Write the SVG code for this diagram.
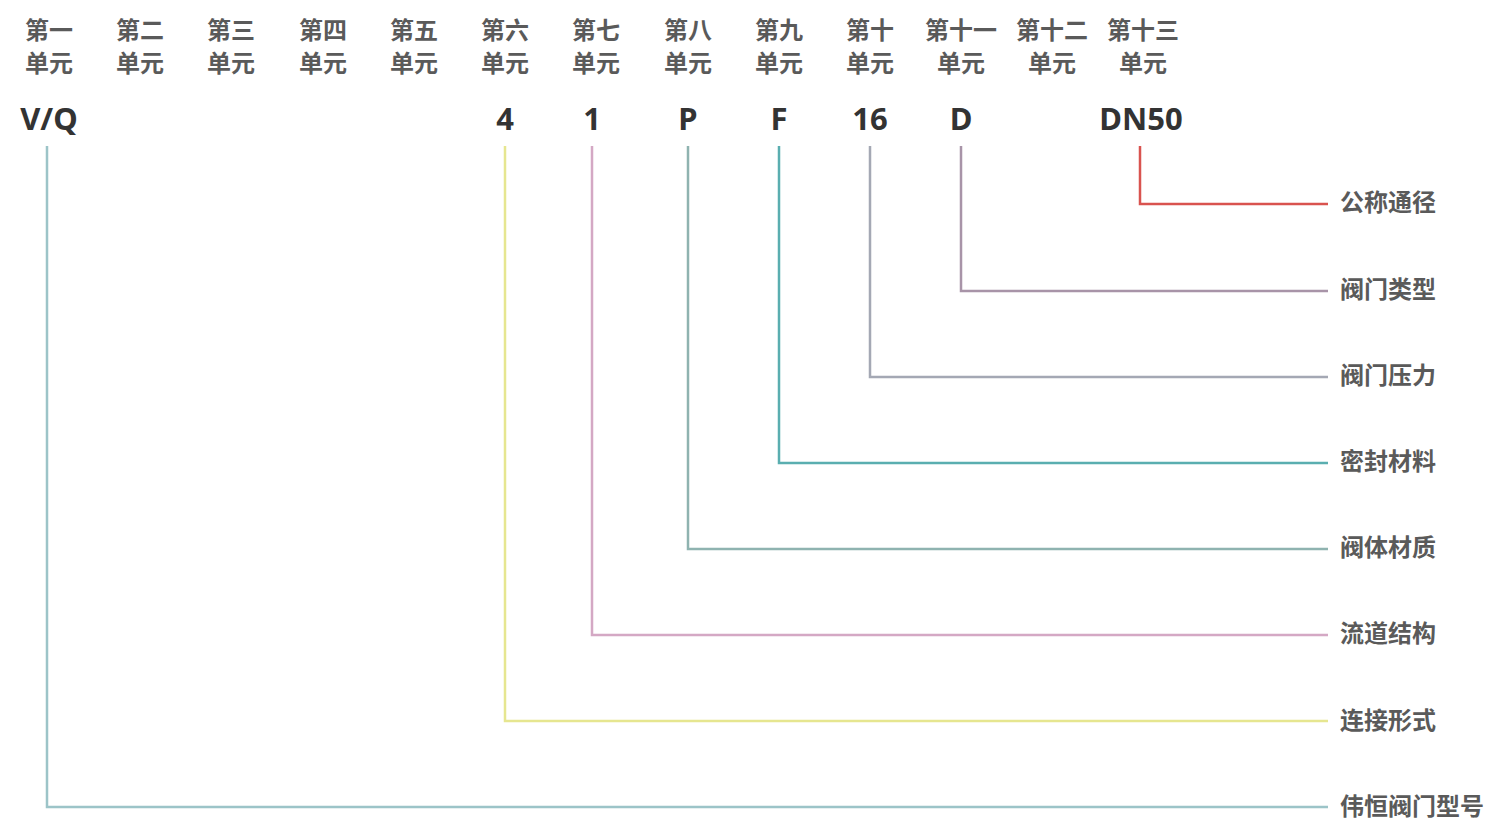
<svg xmlns="http://www.w3.org/2000/svg" width="1495" height="830" viewBox="0 0 1495 830">
<style>
.hd{font-family:"Noto Sans CJK SC","Noto Sans",sans-serif;font-size:24px;font-weight:bold;fill:#5a5a5a;text-anchor:middle}
.code{font-family:"Noto Sans","Liberation Sans",sans-serif;font-size:31px;font-weight:bold;fill:#333;text-anchor:middle}
.lb{font-family:"Noto Sans CJK SC","Noto Sans",sans-serif;font-size:24px;font-weight:bold;fill:#5a5a5a}
.c{fill:none;stroke-width:2.5}
</style>
<rect width="1495" height="830" fill="#fff"/>
<g id="headers">
<g id="u1"><text class="hd" x="49" y="39">第一</text><text class="hd" x="49" y="72">单元</text></g>
<g id="u2"><text class="hd" x="140" y="39">第二</text><text class="hd" x="140" y="72">单元</text></g>
<g id="u3"><text class="hd" x="231" y="39">第三</text><text class="hd" x="231" y="72">单元</text></g>
<g id="u4"><text class="hd" x="323" y="39">第四</text><text class="hd" x="323" y="72">单元</text></g>
<g id="u5"><text class="hd" x="414" y="39">第五</text><text class="hd" x="414" y="72">单元</text></g>
<g id="u6"><text class="hd" x="505" y="39">第六</text><text class="hd" x="505" y="72">单元</text></g>
<g id="u7"><text class="hd" x="596" y="39">第七</text><text class="hd" x="596" y="72">单元</text></g>
<g id="u8"><text class="hd" x="688" y="39">第八</text><text class="hd" x="688" y="72">单元</text></g>
<g id="u9"><text class="hd" x="779" y="39">第九</text><text class="hd" x="779" y="72">单元</text></g>
<g id="u10"><text class="hd" x="870" y="39">第十</text><text class="hd" x="870" y="72">单元</text></g>
<g id="u11"><text class="hd" x="961" y="39">第十一</text><text class="hd" x="961" y="72">单元</text></g>
<g id="u12"><text class="hd" x="1052" y="39">第十二</text><text class="hd" x="1052" y="72">单元</text></g>
<g id="u13"><text class="hd" x="1143" y="39">第十三</text><text class="hd" x="1143" y="72">单元</text></g>
</g>
<g id="codes">
<g id="code-vq"><text class="code" x="49" y="130">V/Q</text></g>
<g id="code-4"><text class="code" x="505" y="130">4</text></g>
<g id="code-1"><text class="code" x="592" y="130">1</text></g>
<g id="code-p"><text class="code" x="688" y="130">P</text></g>
<g id="code-f"><text class="code" x="779" y="130">F</text></g>
<g id="code-16"><text class="code" x="870" y="130">16</text></g>
<g id="code-d"><text class="code" x="961" y="130">D</text></g>
<g id="code-dn50"><text class="code" x="1141" y="130">DN50</text></g>
</g>
<g id="connectors">
<polyline class="c" stroke="#d9534f" points="1140,146 1140,204 1328,204"/>
<polyline class="c" stroke="#a894a8" points="961,146 961,291 1328,291"/>
<polyline class="c" stroke="#a4a8b4" points="870,146 870,377 1328,377"/>
<polyline class="c" stroke="#5aaeb0" points="779,146 779,463 1328,463"/>
<polyline class="c" stroke="#8fb3b0" points="688,146 688,549 1328,549"/>
<polyline class="c" stroke="#d4a8c4" points="592,146 592,635 1328,635"/>
<polyline class="c" stroke="#e6e690" points="505,146 505,721 1328,721"/>
<polyline class="c" stroke="#9cc4c8" points="47,146 47,807 1328,807"/>
</g>
<g id="labels">
<g id="l-dn"><text class="lb" x="1340" y="211">公称通径</text></g>
<g id="l-type"><text class="lb" x="1340" y="298">阀门类型</text></g>
<g id="l-press"><text class="lb" x="1340" y="384">阀门压力</text></g>
<g id="l-seal"><text class="lb" x="1340" y="470">密封材料</text></g>
<g id="l-body"><text class="lb" x="1340" y="556">阀体材质</text></g>
<g id="l-flow"><text class="lb" x="1340" y="642">流道结构</text></g>
<g id="l-conn"><text class="lb" x="1340" y="729">连接形式</text></g>
<g id="l-model"><text class="lb" x="1340" y="815">伟恒阀门型号</text></g>
</g>
</svg>
